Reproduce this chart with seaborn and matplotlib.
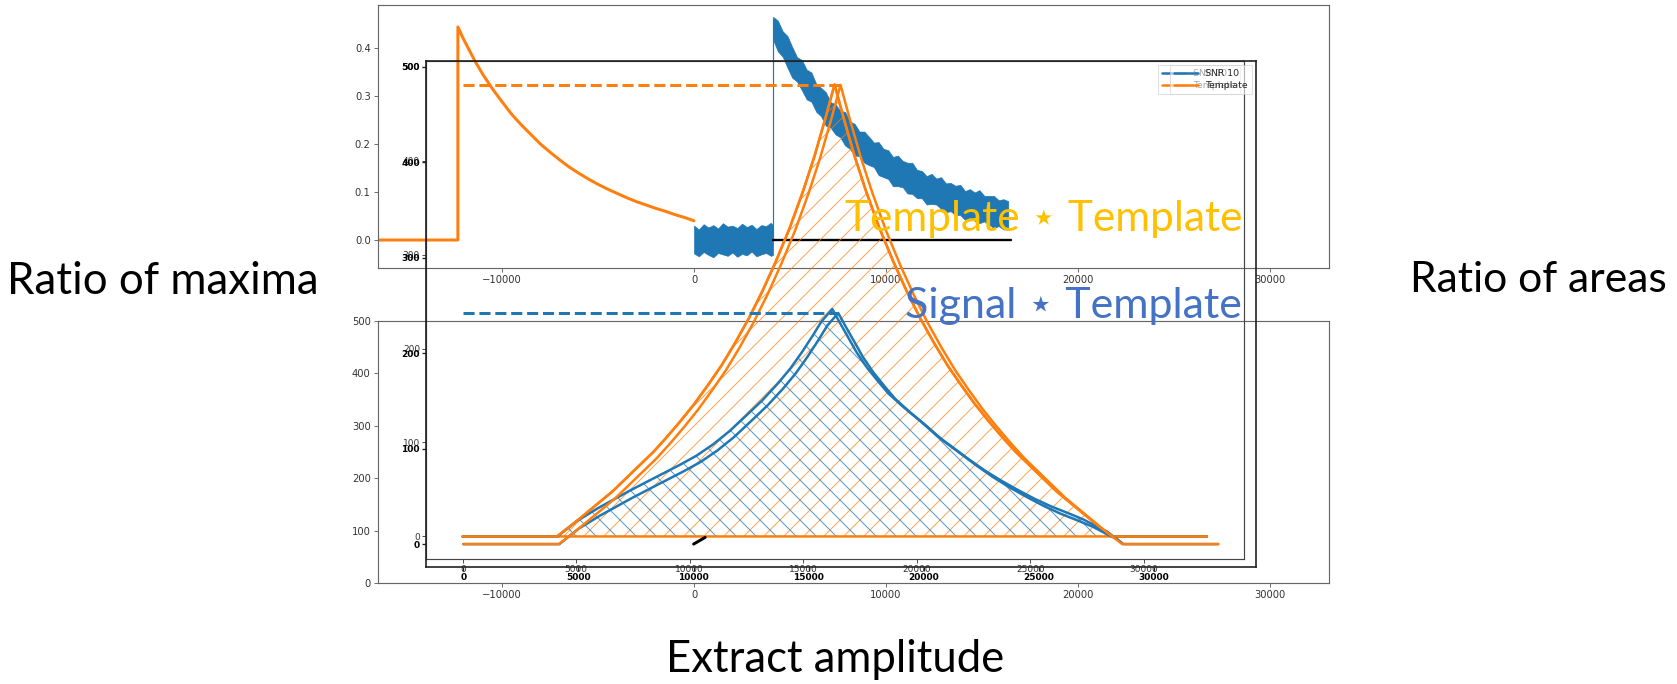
import matplotlib
matplotlib.use("Agg")
import matplotlib.pyplot as plt
import seaborn as sns
import numpy as np

# ---------------- data ----------------
# top panel: template pulse
tpl_x = [-16400, -12300, -12300, -12000, -11700, -11400, -11000, -10500, -10000,
         -9500, -9000, -8500, -8000, -7500, -7000, -6500, -6000, -5500, -5000,
         -4500, -4000, -3500, -3000, -2500, -2000, -1500, -1000, -500, 0]
tpl_y = [0.0, 0.0, 0.444, 0.418, 0.395, 0.372, 0.345, 0.315, 0.288, 0.262, 0.240,
         0.220, 0.200, 0.183, 0.167, 0.152, 0.139, 0.127, 0.116, 0.106, 0.097,
         0.088, 0.080, 0.073, 0.066, 0.060, 0.053, 0.047, 0.040]

# top panel: noisy signal (SNR 10) drawn as its envelope
sig_x = [0, 250, 500, 750, 1000, 1250, 1500, 1750, 2000, 2250, 2500, 2750, 3000,
         3250, 3500, 3750, 4000, 4115,
         4115, 4365, 4615, 4865, 5115, 5365, 5615, 5865, 6115, 6365, 6615, 6865,
         7115, 7365, 7615, 7865, 8115, 8365, 8615, 8865, 9115, 9365, 9615, 9865,
         10115, 10365, 10615, 10865, 11115, 11365, 11615, 11865, 12115, 12365,
         12615, 12865, 13115, 13365, 13615, 13865, 14115, 14365, 14615, 14865,
         15115, 15365, 15615, 15865, 16115, 16365]
sig_hi = [0.030, 0.022, 0.033, 0.026, 0.031, 0.024, 0.035, 0.028, 0.030, 0.025,
          0.034, 0.027, 0.032, 0.023, 0.031, 0.029, 0.036, 0.030,
          0.465, 0.457, 0.435, 0.425, 0.402, 0.381, 0.375, 0.355, 0.349, 0.325,
          0.317, 0.308, 0.287, 0.283, 0.269, 0.267, 0.247, 0.242, 0.226, 0.226,
          0.215, 0.203, 0.204, 0.190, 0.187, 0.173, 0.176, 0.165, 0.161, 0.161,
          0.146, 0.144, 0.133, 0.138, 0.128, 0.131, 0.118, 0.119, 0.113, 0.115,
          0.102, 0.106, 0.099, 0.104, 0.092, 0.092, 0.092, 0.083, 0.085, 0.081]
sig_lo = [-0.028, -0.034, -0.025, -0.031, -0.036, -0.027, -0.030, -0.033, -0.026,
          -0.035, -0.029, -0.032, -0.024, -0.034, -0.030, -0.027, -0.033, -0.031,
          0.417, 0.393, 0.382, 0.359, 0.338, 0.330, 0.312, 0.293, 0.288, 0.267,
          0.258, 0.238, 0.234, 0.220, 0.214, 0.197, 0.190, 0.176, 0.175, 0.161,
          0.156, 0.152, 0.135, 0.131, 0.127, 0.112, 0.112, 0.110, 0.097, 0.096,
          0.087, 0.087, 0.074, 0.075, 0.074, 0.065, 0.058, 0.060, 0.052, 0.052,
          0.042, 0.047, 0.040, 0.035, 0.039, 0.032, 0.025, 0.029, 0.022, 0.022]
step_x = [4115, 4115]
step_y = [0.0, 0.46]
base_x = [4115, 16500]
base_y = [0.0, 0.0]

# middle panels: Template * Template
tt_x = [0, 4150, 4800, 5400, 6000, 6600, 7200, 7800, 8400, 9000, 9600, 10200,
        10800, 11400, 12000, 12600, 13200, 13800, 14400, 15000, 15500, 16000,
        16380, 16760, 17260, 17760, 18360, 18960, 19560, 20160, 20760, 21360,
        21960, 22560, 23160, 23760, 24360, 24960, 25560, 26160, 26760, 27360,
        27960, 28610, 32780]
tt_y = [0, 0, 12, 24, 36, 48, 62, 76, 90, 106, 123, 141, 161, 182, 206, 232, 261,
        293, 328, 368, 405, 447, 481, 447, 405, 368, 328, 293, 261, 232, 206, 182,
        161, 141, 123, 106, 90, 76, 62, 48, 36, 24, 12, 0, 0]
# middle panels: Signal * Template
st_x = [0, 4170, 5000, 5950, 6700, 7380, 8420, 9550, 10300, 11030, 11750, 12460,
        13200, 13890, 14440, 14940, 15400, 15810, 16280, 16600, 16930, 17350,
        17800, 18300, 18760, 19400, 20150, 20850, 21580, 22300, 23010, 23750,
        24490, 25200, 25920, 26650, 27350, 27900, 28400, 28660, 32780]
st_y = [0, 0, 16, 30, 40, 49, 62, 76, 86, 98, 112, 128, 145, 163, 179, 196, 213,
        229, 242, 228, 214, 196, 180, 165, 152, 138, 123, 108, 95, 82, 70, 59, 49,
        40, 32, 25, 18, 11, 5, 0, 0]
blk_x = [10000, 10500]
blk_y = [0, 7]

top_xticks = [-10000, 0, 10000, 20000, 30000]
top_yticks = [0.0, 0.1, 0.2, 0.3, 0.4]
bot_yticks = [0, 100, 200, 300, 400, 500]
mid_xticks = [0, 5000, 10000, 15000, 20000, 25000, 30000]
mid_yticks = [0, 100, 200, 300, 400, 500]
labels = ["SNR 10", "Template"]

# ---------------- figure ----------------
sns.set_style("ticks")
plt.rcParams["font.family"] = ["DejaVu Sans"]
plt.rcParams["hatch.linewidth"] = 0.6
plt.rcParams["axes.unicode_minus"] = True

W, H, DPI = 1677, 684, 120
fig = plt.figure(figsize=(W / DPI, H / DPI), dpi=DPI)
fig.patch.set_facecolor("white")
BLUE, ORANGE = sns.color_palette("tab10")[:2]


def ax_at(l, r, t, b):
    return fig.add_axes([l / W, 1 - b / H, (r - l) / W, (b - t) / H])


def style(ax, spine_c, spine_w, lab_c, size, weight="normal", pad=2.0):
    ax.set_facecolor("none")
    for s in ax.spines.values():
        s.set_visible(True)
        s.set_color(spine_c)
        s.set_linewidth(spine_w)
    ax.tick_params(color=spine_c, labelcolor=lab_c, labelsize=size, length=2.4,
                   width=spine_w * 0.8, pad=pad, direction="out")
    for lab in ax.get_xticklabels() + ax.get_yticklabels():
        lab.set_fontweight(weight)


axB = ax_at(378, 1329, 321, 583)
axA = ax_at(378, 1329, 5, 268)
axL = ax_at(426, 1244, 61, 559)
axD = ax_at(426, 1256, 61, 567)

# bottom empty axes
axB.set_xlim(-16460, 33070)
axB.set_ylim(0, 500)
axB.set_xticks(top_xticks)
axB.set_yticks(bot_yticks)
style(axB, "#666666", 0.7, "#333333", 6.0)

# top axes
axA.fill_between(sig_x, sig_lo, sig_hi, color=BLUE, lw=0.4)
sns.lineplot(x=step_x, y=step_y, ax=axA, color=BLUE, lw=0.7, sort=False, estimator=None)
sns.lineplot(x=base_x, y=base_y, ax=axA, color="black", lw=1.4, sort=False, estimator=None)
sns.lineplot(x=tpl_x, y=tpl_y, ax=axA, color=ORANGE, lw=1.8, sort=False, estimator=None)
axA.set_xlim(-16460, 33070)
axA.set_ylim(-0.0583, 0.4896)
axA.set_xticks(top_xticks)
axA.set_yticks(top_yticks)
axA.set_yticklabels([f"{v:.1f}" for v in top_yticks])
style(axA, "#666666", 0.7, "#333333", 6.0)

# middle light axes (hatched areas)
axL.fill_between(tt_x, 0, tt_y, facecolor="none", edgecolor=(*ORANGE, 0.7),
                 hatch="//", lw=0)
axL.fill_between(st_x, 0, st_y, facecolor="none", edgecolor=(*BLUE, 0.75),
                 hatch="\\\\", lw=0)
axL.fill_between(tt_x, 0, tt_y, facecolor="none", edgecolor=ORANGE, lw=1.5)
sns.lineplot(x=st_x, y=st_y, ax=axL, color=BLUE, lw=1.5, sort=False,
             estimator=None, label=labels[0])
sns.lineplot(x=tt_x, y=tt_y, ax=axL, color=ORANGE, lw=1.5, sort=False,
             estimator=None, label=labels[1])

# middle dark axes
sns.lineplot(x=st_x, y=st_y, ax=axD, color=BLUE, lw=1.5, sort=False,
             estimator=None, label=labels[0])
sns.lineplot(x=tt_x, y=tt_y, ax=axD, color=ORANGE, lw=1.5, sort=False,
             estimator=None, label=labels[1])
i_tt = int(np.argmax(tt_y))
i_st = int(np.argmax(st_y))
axD.plot([0, tt_x[i_tt]], [tt_y[i_tt], tt_y[i_tt]], color=ORANGE, lw=1.8, ls="--")
axD.plot([0, st_x[i_st]], [st_y[i_st], st_y[i_st]], color=BLUE, lw=1.8, ls="--")
sns.lineplot(x=blk_x, y=blk_y, ax=axD, color="black", lw=1.8, sort=False, estimator=None)

for ax, sc, sw, lc, wt in [(axL, "#444444", 0.7, "#333333", "normal"),
                           (axD, "#222222", 1.0, "#000000", "bold")]:
    ax.set_xlim(-1620, 34420)
    ax.set_ylim(-24, 506)
    ax.set_xticks(mid_xticks)
    ax.set_yticks(mid_yticks)
    style(ax, sc, sw, lc, 5.4, weight=wt, pad=1.2)
    leg = ax.legend(loc="upper right", fontsize=5.6, handlelength=2.6,
                    borderaxespad=0.45, borderpad=0.4, labelspacing=0.35,
                    frameon=True, fancybox=False)
    leg.get_frame().set_edgecolor("#cccccc")
    leg.get_frame().set_linewidth(0.6)
    leg.get_frame().set_alpha(0.6)

# ---------------- slide texts ----------------
renderer = fig.canvas.get_renderer()


def fit_text(s, x0, x1, base, color):
    t = fig.text(x0 / W, 1 - base / H, s, color=color, fontsize=20,
                 family=["Lato", "DejaVu Sans"], ha="left", va="baseline")
    w = t.get_window_extent(renderer).width
    t.set_fontsize(20 * (x1 - x0) / w)
    return t


fit_text("Ratio of maxima", 7, 318, 294, "black")
fit_text("Ratio of areas", 1410, 1668, 292, "black")
fit_text("Extract amplitude", 666, 1005, 672, "black")
fit_text("Template \u22c6 Template", 845, 1243, 231, "#FFC000")
fit_text("Signal \u22c6 Template", 905, 1243, 318, "#4472C4")

fig.savefig("out.png", dpi=DPI, facecolor="white")
